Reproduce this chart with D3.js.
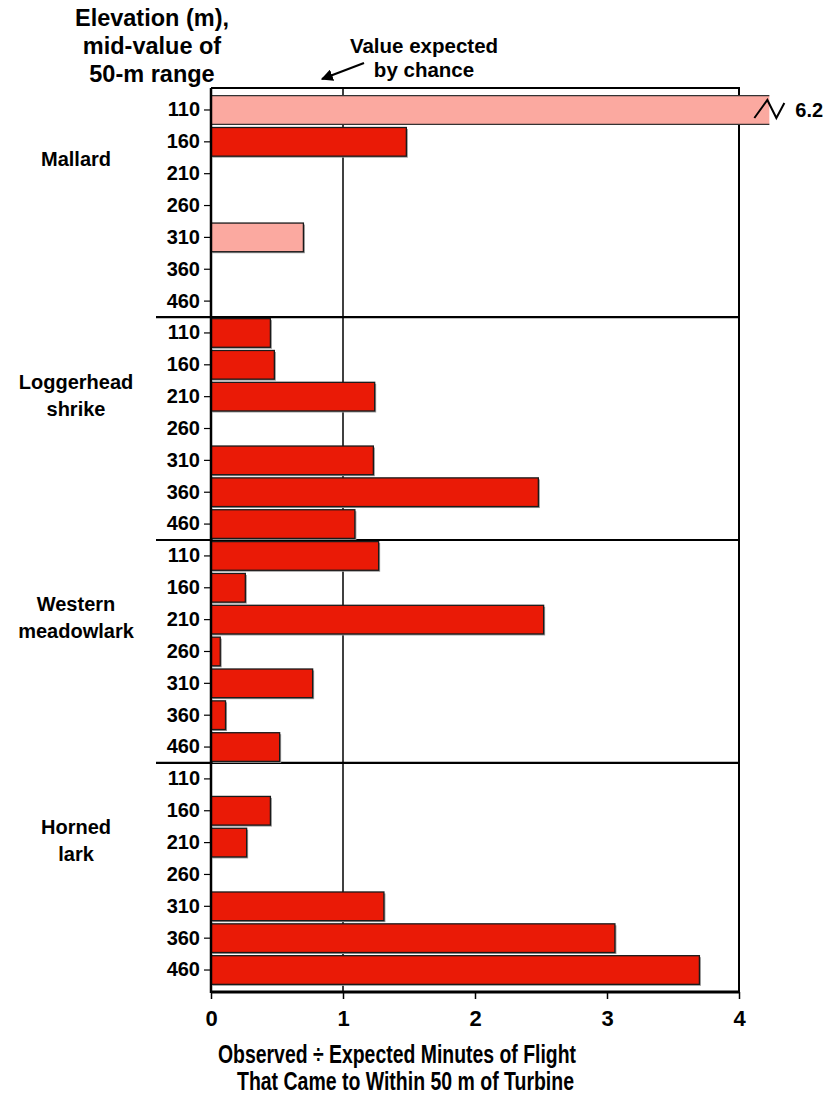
<!DOCTYPE html>
<html>
<head>
<meta charset="utf-8">
<script src="https://cdn.jsdelivr.net/npm/d3@7"></script>
<style>
  html, body { margin: 0; padding: 0; background: #fff; }
  svg { display: block; font-family: "Liberation Sans", Arial, Helvetica, sans-serif; font-weight: bold; }
</style>
</head>
<body>
<div id="chart"></div>
<script>
// species groups, top to bottom
const species = ['Mallard', 'Loggerhead shrike', 'Western meadowlark', 'Horned lark'];
const speciesLines = [['Mallard'], ['Loggerhead', 'shrike'], ['Western', 'meadowlark'], ['Horned', 'lark']];
// elevation classes (mid-value of 50-m range)
const elevations = ['110', '160', '210', '260', '310', '360', '460'];
// observed / expected ratio, one array per species in elevation order
const mallard = [6.2, 1.48, 0, 0, 0.70, 0, 0];
const shrike = [0.45, 0.48, 1.24, 0, 1.23, 2.48, 1.09];
const meadowlark = [1.27, 0.26, 2.52, 0.07, 0.77, 0.11, 0.52];
const hornedLark = [0, 0.45, 0.27, 0, 1.31, 3.06, 3.70];
// bars based on small samples are drawn lighter
const lightBars = [['Mallard', '110'], ['Mallard', '310']];
const xTicks = [0, 1, 2, 3, 4];
const chanceValue = 1;

(function () {
  const seriesValues = [mallard, shrike, meadowlark, hornedLark];
  const rows = [];
  species.forEach((sp, i) => {
    elevations.forEach((el, j) => {
      rows.push({
        species: sp,
        elev: el,
        key: sp + '|' + el,
        value: seriesValues[i][j],
        light: lightBars.some(d => d[0] === sp && d[1] === el)
      });
    });
  });

  const W = 831, H = 1097;
  const pLeft = 211, pRight = 739, pTop = 88, pBottom = 992;
  const xMaxShown = 4;
  const breakAt = 4.23; // where the off-scale bar is cut

  const svg = d3.select('#chart').append('svg')
    .attr('width', W).attr('height', H);

  const x = d3.scaleLinear().domain([0, xMaxShown]).range([pLeft, pRight]);
  const y = d3.scaleBand()
    .domain(rows.map(d => d.key))
    .range([pTop, pBottom])
    .paddingInner(0.1)
    .paddingOuter(0.24);

  const RED = '#ea1a06', PINK = '#fba9a0', EDGE = '#1a1a1a';

  // frame top + right
  svg.append('path')
    .attr('d', `M${pLeft},${pTop}H${pRight}V${pBottom}`)
    .attr('fill', 'none').attr('stroke', '#000').attr('stroke-width', 2);

  // "value expected by chance" line
  svg.append('line')
    .attr('x1', x(chanceValue)).attr('x2', x(chanceValue))
    .attr('y1', pTop).attr('y2', pBottom)
    .attr('stroke', '#000').attr('stroke-width', 1.5);

  // group separators
  for (let i = 1; i < species.length; i++) {
    const a = y(species[i - 1] + '|' + elevations[elevations.length - 1]) + y.bandwidth();
    const b = y(species[i] + '|' + elevations[0]);
    const sy = (a + b) / 2;
    svg.append('line')
      .attr('x1', 156).attr('x2', pRight)
      .attr('y1', sy).attr('y2', sy)
      .attr('stroke', '#000').attr('stroke-width', 2.2);
  }

  const bars = rows.filter(d => d.value > 0);
  const barG = svg.append('g');

  // soft shadow
  barG.selectAll('rect.shadow')
    .data(bars.filter(d => d.value <= xMaxShown))
    .join('rect')
    .attr('class', 'shadow')
    .attr('x', x(0) + 1.5)
    .attr('y', d => y(d.key) + 1.5)
    .attr('width', d => x(d.value) - x(0))
    .attr('height', y.bandwidth())
    .attr('fill', '#9a9a9a');

  barG.selectAll('rect.bar')
    .data(bars)
    .join('rect')
    .attr('class', 'bar')
    .attr('x', x(0))
    .attr('y', d => y(d.key))
    .attr('width', d => x(Math.min(d.value, breakAt)) - x(0))
    .attr('height', y.bandwidth())
    .attr('fill', d => d.light ? PINK : RED)
    .attr('stroke', d => d.value > xMaxShown ? 'none' : EDGE)
    .attr('stroke-width', 1.3);

  // off-scale bar: only top and bottom edges, broken with a zigzag
  bars.filter(d => d.value > xMaxShown).forEach(d => {
    const y0 = y(d.key), y1 = y0 + y.bandwidth(), xe = x(breakAt);
    svg.append('path')
      .attr('d', `M${x(0)},${y0}H${xe}M${x(0)},${y1}H${xe}`)
      .attr('stroke', '#333').attr('stroke-width', 1.2).attr('fill', 'none');
    const ym = (y0 + y1) / 2;
    svg.append('path')
      .attr('d', `M${xe - 15},${ym + 8}L${xe - 2},${ym - 10}L${xe + 7},${ym + 8}L${xe + 15},${ym - 7}`)
      .attr('stroke', '#000').attr('stroke-width', 2).attr('fill', 'none');
    svg.append('text')
      .attr('x', xe + 26).attr('y', ym + 7)
      .attr('font-size', 20)
      .text(d3.format('.1f')(d.value));
  });

  // y axis (elevation ticks)
  const yAxis = svg.append('g')
    .attr('transform', `translate(${pLeft},0)`)
    .call(d3.axisLeft(y).tickSize(7).tickPadding(4).tickFormat(k => k.split('|')[1]));
  yAxis.select('.domain').remove();
  yAxis.selectAll('.tick line').attr('stroke', '#000').attr('stroke-width', 1.2);
  yAxis.selectAll('.tick text')
    .attr('font-size', 20).attr('font-weight', 'bold').attr('fill', '#000')
    .attr('font-family', '"Liberation Sans", Arial, sans-serif');
  svg.append('line')
    .attr('x1', pLeft).attr('x2', pLeft).attr('y1', pTop).attr('y2', pBottom + 1)
    .attr('stroke', '#000').attr('stroke-width', 2.5);

  // x axis
  const xAxis = svg.append('g')
    .attr('transform', `translate(0,${pBottom})`)
    .call(d3.axisBottom(x).tickValues(xTicks).tickSize(7).tickPadding(11).tickFormat(d3.format('d')));
  xAxis.select('.domain').attr('stroke', '#000').attr('stroke-width', 3).attr('d', `M${pLeft},0H${pRight}`);
  xAxis.selectAll('.tick line').attr('stroke', '#000').attr('stroke-width', 1.5);
  xAxis.selectAll('.tick text')
    .attr('font-size', 22).attr('font-weight', 'bold').attr('fill', '#000')
    .attr('font-family', '"Liberation Sans Narrow", "Liberation Sans", Arial, sans-serif');

  // species labels, placed in the upper half of each group
  species.forEach((sp, i) => {
    const yc = (y(sp + '|' + elevations[0]) + y(sp + '|' + elevations[elevations.length - 1]) + y.bandwidth()) / 2;
    speciesLines[i].forEach((ln, j) => {
      svg.append('text')
        .attr('x', 76).attr('y', yc - 47 + j * 27 + 7)
        .attr('text-anchor', 'middle')
        .attr('font-size', 20)
        .text(ln);
    });
  });

  // y header
  ['Elevation (m),', 'mid-value of', '50-m range'].forEach((t, i) => {
    svg.append('text')
      .attr('x', 152).attr('y', 26 + i * 28)
      .attr('text-anchor', 'middle')
      .attr('font-size', 23.5)
      .text(t);
  });

  // chance annotation
  ['Value expected', 'by chance'].forEach((t, i) => {
    svg.append('text')
      .attr('x', 424).attr('y', 53 + i * 24)
      .attr('text-anchor', 'middle')
      .attr('font-size', 20.5)
      .text(t);
  });
  svg.append('defs').append('marker')
    .attr('id', 'arrow').attr('viewBox', '0 0 10 10')
    .attr('refX', 9).attr('refY', 5)
    .attr('markerWidth', 6).attr('markerHeight', 6)
    .attr('orient', 'auto')
    .append('path').attr('d', 'M0,0L10,5L0,10z').attr('fill', '#000');
  svg.append('line')
    .attr('x1', 364).attr('y1', 63).attr('x2', 322).attr('y2', 79)
    .attr('stroke', '#000').attr('stroke-width', 2)
    .attr('marker-end', 'url(#arrow)');

  // x title
  const titleFont = '"Liberation Sans Narrow", "Liberation Sans", Arial, sans-serif';
  svg.append('text')
    .attr('x', 218).attr('y', 1063)
    .attr('font-size', 25).attr('font-family', titleFont)
    .attr('textLength', 358).attr('lengthAdjust', 'spacingAndGlyphs')
    .text('Observed ÷ Expected Minutes of Flight');
  svg.append('text')
    .attr('x', 237).attr('y', 1090)
    .attr('font-size', 25).attr('font-family', titleFont)
    .attr('textLength', 337).attr('lengthAdjust', 'spacingAndGlyphs')
    .text('That Came to Within 50 m of Turbine');
})();
</script>
</body>
</html>
